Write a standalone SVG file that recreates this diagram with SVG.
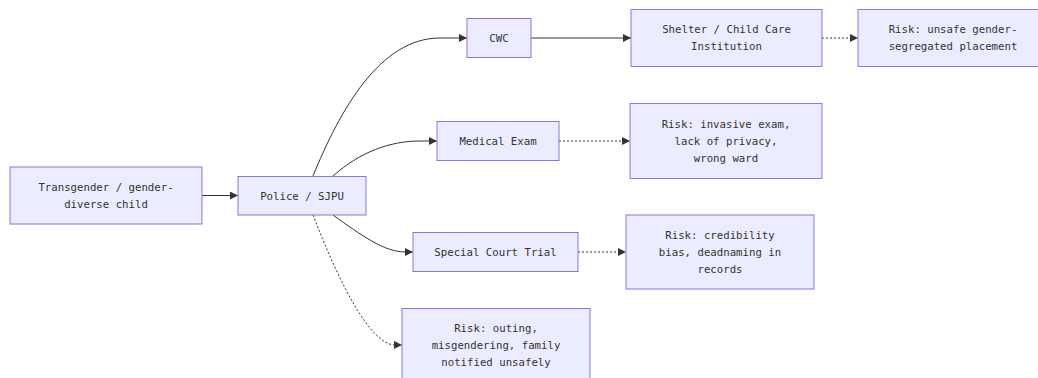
<svg xmlns="http://www.w3.org/2000/svg" width="1038" height="378" viewBox="0 0 1038 378">
<style>
.node rect{fill:#ECECFF;stroke:#9370DB;stroke-width:1px;}
.node text{font-family:"DejaVu Sans Mono","Liberation Mono",monospace;font-size:10.7px;fill:#333;text-anchor:middle;dominant-baseline:central;}
.edge{fill:none;stroke:#333;stroke-width:1px;}
.dot{stroke-dasharray:2 2;}
</style>
<defs>
<marker id="arr" viewBox="0 0 10 10" refX="10" refY="5" markerWidth="8" markerHeight="8" markerUnits="userSpaceOnUse" orient="auto">
<path d="M0,0 L10,5 L0,10 z" fill="#333"/>
</marker>
</defs>
<rect width="1038" height="378" fill="#fff"/>
<g id="edges">
<path class="edge" d="M202,195.5 L238,195.5" marker-end="url(#arr)"/>
<path class="edge" d="M313,176 C340,110 380,38 440,38 L467,38" marker-end="url(#arr)"/>
<path class="edge" d="M333,176 C360,152 390,141 420,141 L437,141" marker-end="url(#arr)"/>
<path class="edge" d="M333,215 C362,236 385,252 405,252 L413,252" marker-end="url(#arr)"/>
<path class="edge dot" d="M313,215 C338,280 370,345 395,345 L402,345" marker-end="url(#arr)"/>
<path class="edge" d="M531,38 L631,38" marker-end="url(#arr)"/>
<path class="edge dot" d="M822,38 L858,38" marker-end="url(#arr)"/>
<path class="edge dot" d="M559,141 L630,141" marker-end="url(#arr)"/>
<path class="edge dot" d="M578,252 L626,252" marker-end="url(#arr)"/>
</g>
<g id="child" class="node"><rect x="10" y="167" width="192" height="57"/><text x="106" y="187.5">Transgender / gender-</text><text x="106" y="204.5">diverse child</text></g>
<g id="police" class="node"><rect x="238" y="176.5" width="128" height="38.5"/><text x="302" y="196">Police / SJPU</text></g>
<g id="cwc" class="node"><rect x="467" y="18.5" width="64" height="39"/><text x="499" y="38">CWC</text></g>
<g id="shelter" class="node"><rect x="631" y="9.5" width="191" height="57"/><text x="726.5" y="29.5">Shelter / Child Care</text><text x="726.5" y="46.5">Institution</text></g>
<g id="risk1" class="node"><rect x="858" y="9.5" width="191" height="57"/><text x="953" y="29.5">Risk: unsafe gender-</text><text x="953" y="46.5">segregated placement</text></g>
<g id="medical" class="node"><rect x="437" y="121.5" width="122" height="39"/><text x="498" y="141">Medical Exam</text></g>
<g id="risk2" class="node"><rect x="630" y="103.5" width="192" height="75"/><text x="726" y="124">Risk: invasive exam,</text><text x="726" y="141">lack of privacy,</text><text x="726" y="158">wrong ward</text></g>
<g id="court" class="node"><rect x="413" y="232.5" width="165" height="39"/><text x="495.5" y="252">Special Court Trial</text></g>
<g id="risk3" class="node"><rect x="626" y="215" width="188" height="74"/><text x="720" y="235">Risk: credibility</text><text x="720" y="252">bias, deadnaming in</text><text x="720" y="269">records</text></g>
<g id="risk4" class="node"><rect x="402" y="308.5" width="188" height="74"/><text x="496" y="328">Risk: outing,</text><text x="496" y="345">misgendering, family</text><text x="496" y="362">notified unsafely</text></g>
</svg>
